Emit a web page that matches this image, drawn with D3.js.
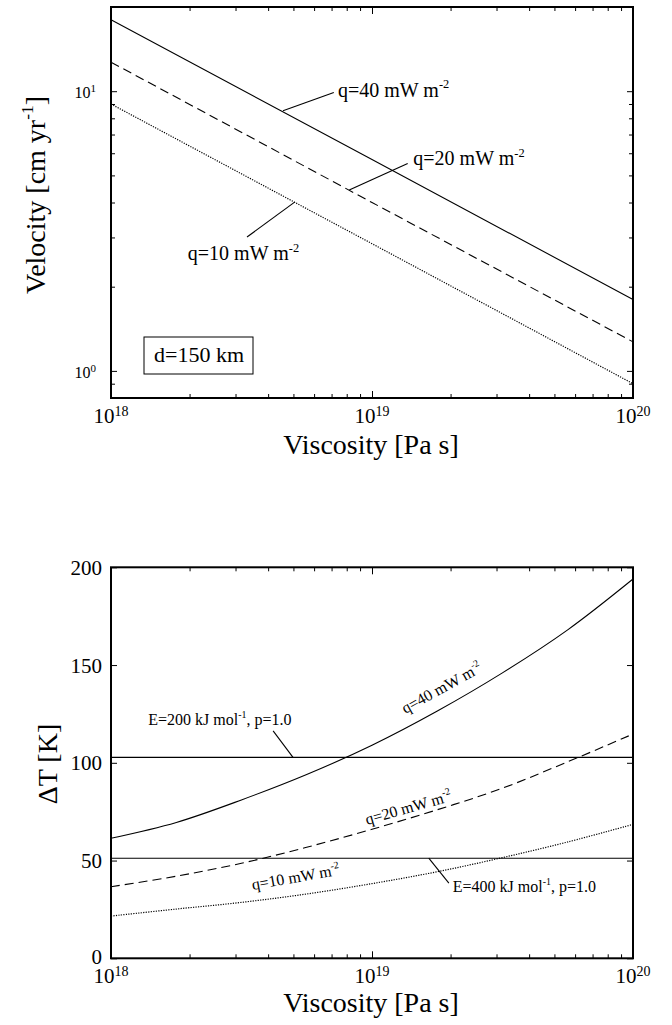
<!DOCTYPE html>
<html>
<head>
<meta charset="utf-8">
<script src="https://cdn.jsdelivr.net/npm/d3@7"></script>
<style>
  body { margin: 0; background: #fff; }
  svg { display: block; font-family: "Liberation Serif", "Times New Roman", "Nimbus Roman", "DejaVu Serif", serif; }
  svg text { fill: #000; }
</style>
</head>
<body>
<svg></svg>
<script>
// top panel: velocity vs viscosity (log-log)
const viscosityTop = [1e18, 1e19, 1e20];
const velocity40 = [18.0, 5.7, 1.8];
const velocity20 = [12.7, 4.0, 1.27];
const velocity10 = [9.0, 2.85, 0.9];

// bottom panel: temperature drop vs viscosity
const viscosityBot = [1e18, 1.78e18, 3.16e18, 5.62e18, 1e19, 1.78e19, 3.16e19, 5.62e19, 1e20];
const dT40 = [61.4, 69.5, 81, 94, 109, 126.5, 146, 168, 194];
const dT20 = [36.6, 42, 48.6, 56.8, 66, 76, 87, 100.5, 114.7];
const dT10 = [21.6, 25.2, 28.6, 32.9, 38.2, 44.3, 51.5, 59.5, 68.5];
const eLevels = [102.8, 51.2];

const qLabels = ['q=40 mW m', 'q=20 mW m', 'q=10 mW m'];
const yTicksBot = [0, 50, 100, 150, 200];
const xMajor = [1e18, 1e19, 1e20];

// label anchors, in data units
const topNotes = [
  { text: qLabels[0], from: [4.56e18, 8.51], to: [7.14e18, 9.89], at: [7.41e18, 9.57] },
  { text: qLabels[1], from: [8.18e18, 4.43], to: [1.37e19, 5.52], at: [1.44e19, 5.45] },
  { text: qLabels[2], from: [3.32e18, 3.01], to: [5.07e18, 4.02], at: [1.97e18, 2.49] }
];
const botNotes = [
  { text: qLabels[0], at: [1.34e19, 124.9], angle: -29 },
  { text: qLabels[1], at: [9.57e18, 68.2], angle: -16 },
  { text: qLabels[2], at: [3.49e18, 34.9], angle: -10 }
];
const eNotes = [
  { text: 'E=200 kJ mol', from: [4.18e18, 116.3], to: [4.98e18, eLevels[0]], at: [1.39e18, 119.3] },
  { text: 'E=400 kJ mol', from: [1.65e19, eLevels[1]], to: [1.97e19, 38.5], at: [2.04e19, 33.9] }
];

const svgWidth = 672;
const svgHeight = 1025;
const left = 111;
const plotW = 522;
const plotH = 391;
const topY = 7;
const botY = 567.3;
const dashes = [null, '9,5', '1.2,1.3'];

const svg = d3.select('svg')
  .attr('width', svgWidth)
  .attr('height', svgHeight);

const x = d3.scaleLog().domain([1e18, 1e20]).range([0, plotW]);
const yTop = d3.scaleLog().domain([0.8, 20]).range([plotH, 0]);
const yBot = d3.scaleLinear().domain([0, 200]).range([plotH, 0]);

const isPow10 = v => Math.abs(Math.log10(v) - Math.round(Math.log10(v))) < 1e-9;

function ticksInside(g, axis, scale, values, size, tx, ty) {
  const a = axis(scale).tickValues(values).tickSize(-size).tickFormat('');
  const sel = g.append('g').attr('transform', `translate(${tx},${ty})`).call(a);
  sel.select('.domain').remove();
  sel.selectAll('line').attr('stroke-width', 1);
}

function frame(g, yScale, yMaj, yMin) {
  const xMin = x.ticks().filter(v => !isPow10(v));
  [[d3.axisBottom, 0, plotH], [d3.axisTop, 0, 0]].forEach(([ax, tx, ty]) => {
    ticksInside(g, ax, x, xMin, 4, tx, ty);
    ticksInside(g, ax, x, xMajor, 7, tx, ty);
  });
  [[d3.axisLeft, 0, 0], [d3.axisRight, plotW, 0]].forEach(([ax, tx, ty]) => {
    if (yMin.length) ticksInside(g, ax, yScale, yMin, 4, tx, ty);
    ticksInside(g, ax, yScale, yMaj, 6, tx, ty);
  });
  g.append('rect')
    .attr('width', plotW)
    .attr('height', plotH)
    .attr('fill', 'none')
    .attr('stroke', '#000')
    .attr('stroke-width', 2);

  // 10^n labels under the x axis
  xMajor.forEach(v => {
    const t = g.append('text')
      .attr('x', x(v))
      .attr('y', plotH + 25)
      .attr('text-anchor', 'middle')
      .attr('font-size', 21);
    t.append('tspan').text('10');
    t.append('tspan').attr('font-size', 14).attr('dy', -7.5).text(Math.round(Math.log10(v)));
  });
}

function supText(t, main, sup, size) {
  t.append('tspan').text(main);
  t.append('tspan').attr('font-size', size * 0.62).attr('dy', -size * 0.42).text(sup);
}

// ---------- top panel ----------
const g1 = svg.append('g').attr('transform', `translate(${left},${topY})`);
const yTopTicks = yTop.ticks();
frame(g1, yTop, yTopTicks.filter(isPow10), yTopTicks.filter(v => !isPow10(v)));

yTopTicks.filter(isPow10).forEach(v => {
  const t = g1.append('text')
    .attr('x', -15)
    .attr('y', yTop(v) + 7)
    .attr('text-anchor', 'end')
    .attr('font-size', 16);
  t.append('tspan').text('10');
  t.append('tspan').attr('font-size', 11).attr('dy', -6).text(Math.round(Math.log10(v)));
});

const lineTop = d3.line()
  .x((d, i) => x(viscosityTop[i]))
  .y(d => yTop(d));

[velocity40, velocity20, velocity10].forEach((s, i) => {
  g1.append('path')
    .datum(s)
    .attr('fill', 'none')
    .attr('stroke', '#000')
    .attr('stroke-width', i === 2 ? 1.2 : 1.1)
    .attr('stroke-dasharray', dashes[i])
    .attr('d', lineTop);
});

topNotes.forEach(n => {
  g1.append('line')
    .attr('x1', x(n.from[0])).attr('y1', yTop(n.from[1]))
    .attr('x2', x(n.to[0])).attr('y2', yTop(n.to[1]))
    .attr('stroke', '#000').attr('stroke-width', 1.1);
  const t = g1.append('text')
    .attr('x', x(n.at[0]))
    .attr('y', yTop(n.at[1]))
    .attr('font-size', 20);
  supText(t, n.text, '-2', 20);
});

g1.append('rect')
  .attr('x', 33).attr('y', 330)
  .attr('width', 109).attr('height', 37)
  .attr('fill', 'none').attr('stroke', '#000').attr('stroke-width', 1);
g1.append('text')
  .attr('x', 43).attr('y', 355)
  .attr('font-size', 22)
  .text('d=150 km');

g1.append('text')
  .attr('x', plotW / 2 - 1)
  .attr('y', plotH + 56)
  .attr('text-anchor', 'middle')
  .attr('font-size', 28)
  .text('Viscosity [Pa s]');

const yl1 = g1.append('text')
  .attr('transform', `translate(${45 - left},${195 - topY}) rotate(-90)`)
  .attr('text-anchor', 'middle')
  .attr('font-size', 28);
supText(yl1, 'Velocity [cm yr', '-1', 28);
yl1.append('tspan').attr('dy', 28 * 0.42).text(']');

// ---------- bottom panel ----------
const g2 = svg.append('g').attr('transform', `translate(${left},${botY})`);
frame(g2, yBot, yTicksBot, []);

yTicksBot.forEach(v => {
  g2.append('text')
    .attr('x', -9)
    .attr('y', yBot(v) + (v === 0 ? 6 : 7.5))
    .attr('text-anchor', 'end')
    .attr('font-size', 21)
    .text(v);
});

eLevels.forEach(v => {
  g2.append('line')
    .attr('x1', 0).attr('x2', plotW)
    .attr('y1', yBot(v)).attr('y2', yBot(v))
    .attr('stroke', '#000').attr('stroke-width', 1.1);
});

const lineBot = d3.line()
  .x((d, i) => x(viscosityBot[i]))
  .y(d => yBot(d))
  .curve(d3.curveCatmullRom.alpha(0.5));

[dT40, dT20, dT10].forEach((s, i) => {
  g2.append('path')
    .datum(s)
    .attr('fill', 'none')
    .attr('stroke', '#000')
    .attr('stroke-width', i === 2 ? 1.2 : 1.1)
    .attr('stroke-dasharray', dashes[i])
    .attr('d', lineBot);
});

botNotes.forEach(n => {
  const t = g2.append('text')
    .attr('transform', `translate(${x(n.at[0])},${yBot(n.at[1])}) rotate(${n.angle})`)
    .attr('font-size', 16);
  supText(t, n.text, '-2', 16);
});

eNotes.forEach(n => {
  g2.append('line')
    .attr('x1', x(n.from[0])).attr('y1', yBot(n.from[1]))
    .attr('x2', x(n.to[0])).attr('y2', yBot(n.to[1]))
    .attr('stroke', '#000').attr('stroke-width', 1.1);
  const t = g2.append('text')
    .attr('x', x(n.at[0]))
    .attr('y', yBot(n.at[1]))
    .attr('font-size', 16);
  supText(t, n.text, '-1', 16);
  t.append('tspan').attr('dy', 16 * 0.42).text(', p=1.0');
});

g2.append('text')
  .attr('x', plotW / 2 - 1)
  .attr('y', plotH + 53.5)
  .attr('text-anchor', 'middle')
  .attr('font-size', 28)
  .text('Viscosity [Pa s]');

g2.append('text')
  .attr('transform', `translate(${57 - left},${764 - botY}) rotate(-90)`)
  .attr('text-anchor', 'middle')
  .attr('font-size', 28)
  .text('ΔT [K]');
</script>
</body>
</html>
